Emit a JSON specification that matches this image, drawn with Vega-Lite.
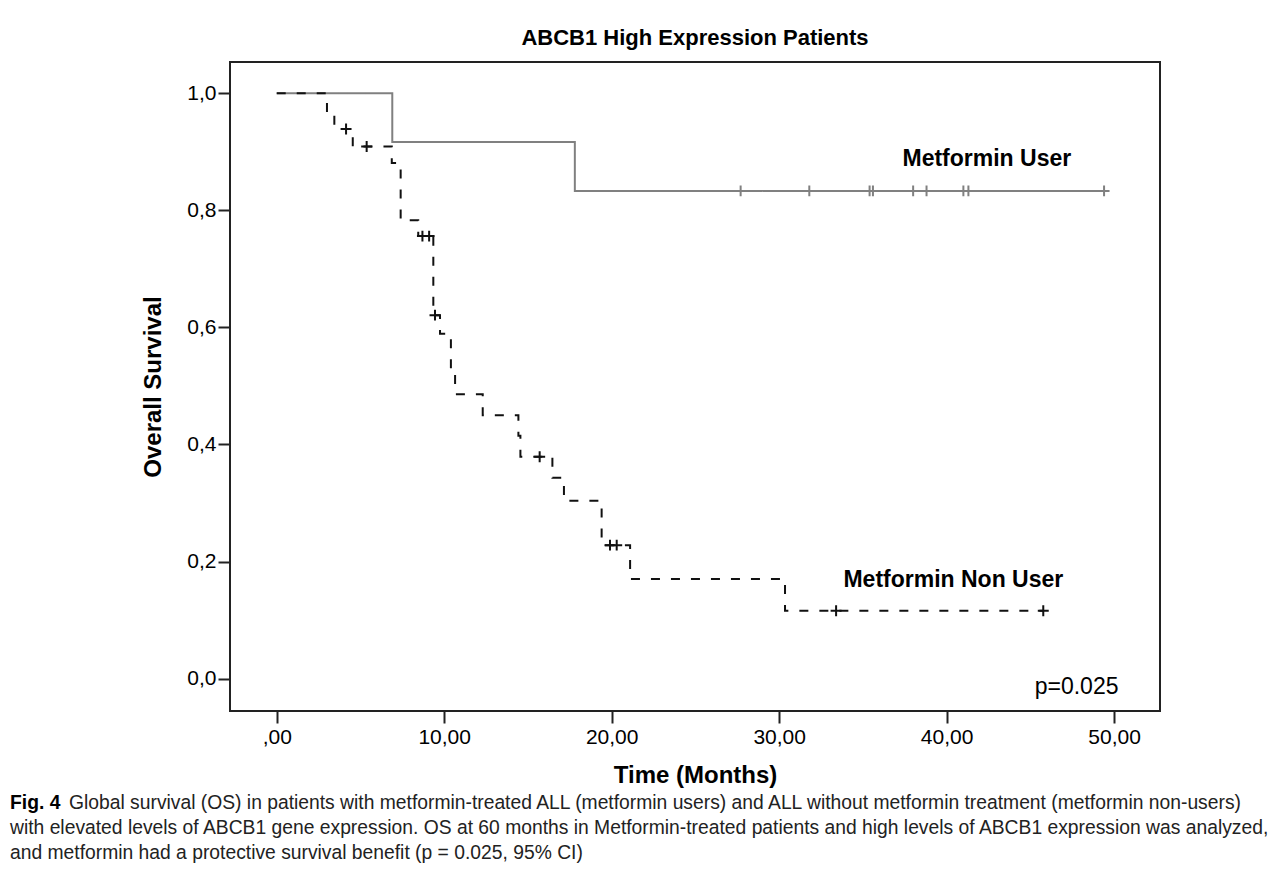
{
  "$schema": "https://vega.github.io/schema/vega-lite/v6.json",
  "background": "white",
  "padding": {"left": 10, "top": 26, "right": 5, "bottom": 5},
  "config": {"font": "Liberation Sans", "view": {"stroke": null}},
  "spacing": 2,
  "datasets": {
    "km": [
      {"group": "User", "time": 0, "surv": 1.0, "censored": false},
      {"group": "User", "time": 6.9, "surv": 0.9167, "censored": false},
      {"group": "User", "time": 17.8, "surv": 0.8333, "censored": false},
      {"group": "User", "time": 27.7, "surv": 0.8333, "censored": true},
      {"group": "User", "time": 31.8, "surv": 0.8333, "censored": true},
      {"group": "User", "time": 35.4, "surv": 0.8333, "censored": true},
      {"group": "User", "time": 35.6, "surv": 0.8333, "censored": true},
      {"group": "User", "time": 38.0, "surv": 0.8333, "censored": true},
      {"group": "User", "time": 38.8, "surv": 0.8333, "censored": true},
      {"group": "User", "time": 41.0, "surv": 0.8333, "censored": true},
      {"group": "User", "time": 41.3, "surv": 0.8333, "censored": true},
      {"group": "User", "time": 49.4, "surv": 0.8333, "censored": true},
      {"group": "Non User", "time": 0, "surv": 1.0, "censored": false},
      {"group": "Non User", "time": 3.0, "surv": 0.966, "censored": false},
      {"group": "Non User", "time": 3.44, "surv": 0.939, "censored": false},
      {"group": "Non User", "time": 4.14, "surv": 0.939, "censored": true},
      {"group": "Non User", "time": 4.54, "surv": 0.909, "censored": false},
      {"group": "Non User", "time": 5.37, "surv": 0.909, "censored": true},
      {"group": "Non User", "time": 6.87, "surv": 0.881, "censored": false},
      {"group": "Non User", "time": 7.4, "surv": 0.783, "censored": false},
      {"group": "Non User", "time": 8.45, "surv": 0.756, "censored": false},
      {"group": "Non User", "time": 8.7, "surv": 0.756, "censored": true},
      {"group": "Non User", "time": 9.1, "surv": 0.756, "censored": true},
      {"group": "Non User", "time": 9.35, "surv": 0.621, "censored": false},
      {"group": "Non User", "time": 9.45, "surv": 0.621, "censored": true},
      {"group": "Non User", "time": 9.75, "surv": 0.589, "censored": false},
      {"group": "Non User", "time": 10.4, "surv": 0.53, "censored": false},
      {"group": "Non User", "time": 10.65, "surv": 0.486, "censored": false},
      {"group": "Non User", "time": 12.3, "surv": 0.45, "censored": false},
      {"group": "Non User", "time": 14.43, "surv": 0.415, "censored": false},
      {"group": "Non User", "time": 14.55, "surv": 0.379, "censored": false},
      {"group": "Non User", "time": 15.7, "surv": 0.379, "censored": true},
      {"group": "Non User", "time": 16.46, "surv": 0.343, "censored": false},
      {"group": "Non User", "time": 17.15, "surv": 0.304, "censored": false},
      {"group": "Non User", "time": 19.4, "surv": 0.228, "censored": false},
      {"group": "Non User", "time": 19.9, "surv": 0.228, "censored": true},
      {"group": "Non User", "time": 20.3, "surv": 0.228, "censored": true},
      {"group": "Non User", "time": 21.1, "surv": 0.17, "censored": false},
      {"group": "Non User", "time": 30.35, "surv": 0.116, "censored": false},
      {"group": "Non User", "time": 33.4, "surv": 0.116, "censored": true},
      {"group": "Non User", "time": 45.77, "surv": 0.116, "censored": true}
    ],
    "labels": [
      {"kind": "series", "label": "Metformin User", "time": 42.4, "surv": 0.887},
      {"kind": "series", "label": "Metformin Non User", "time": 40.4, "surv": 0.168},
      {"kind": "stat", "label": "p=0.025", "time": 47.76, "surv": -0.0144}
    ],
    "caption": [
      {"line": 1, "part": "label", "text": "Fig. 4"},
      {"line": 1, "part": "lead", "text": "Global survival (OS) in patients with metformin-treated ALL (metformin users) and ALL without metformin treatment (metformin non-users)"},
      {"line": 2, "part": "body", "text": "with elevated levels of ABCB1 gene expression. OS at 60 months in Metformin-treated patients and high levels of ABCB1 expression was analyzed,"},
      {"line": 3, "part": "body", "text": "and metformin had a protective survival benefit (p = 0.025, 95% CI)"}
    ]
  },
  "vconcat": [
    {
      "width": 930,
      "height": 649,
      "view": {"stroke": "#222222", "strokeWidth": 2},
      "title": {"text": "ABCB1 High Expression Patients", "fontSize": 22, "fontWeight": "bold", "color": "black", "offset": 12, "anchor": "middle"},
      "encoding": {
        "x": {
          "field": "time", "type": "quantitative",
          "scale": {"domain": [-2.79, 52.74], "nice": false, "zero": false},
          "axis": {
            "values": [0, 10, 20, 30, 40, 50],
            "labelExpr": "datum.value == 0 ? ',00' : replace(format(datum.value, '.2f'), '.', ',')",
            "title": "Time (Months)", "titleFontSize": 24, "titleFontWeight": "bold", "titleColor": "black",
            "labelFontSize": 21, "labelColor": "black", "labelPadding": 3, "titlePadding": 16,
            "tickSize": 12, "tickWidth": 2, "tickColor": "#222222", "domain": false, "grid": false
          }
        },
        "y": {
          "field": "surv", "type": "quantitative",
          "scale": {"domain": [-0.0554, 1.0535], "nice": false, "zero": false},
          "axis": {
            "values": [0, 0.2, 0.4, 0.6, 0.8, 1.0],
            "labelExpr": "replace(format(datum.value, '.1f'), '.', ',')",
            "title": "Overall Survival", "titleFontSize": 24, "titleFontWeight": "bold", "titleColor": "black",
            "labelFontSize": 21, "labelColor": "black", "labelPadding": 2, "titlePadding": 21,
            "tickSize": 12, "tickWidth": 2, "tickColor": "#222222", "domain": false, "grid": false
          }
        }
      },
      "layer": [
        {
          "data": {"name": "km"},
          "mark": {"type": "line", "interpolate": "step-after", "strokeWidth": 2},
          "encoding": {
            "color": {"field": "group", "type": "nominal", "scale": {"domain": ["User", "Non User"], "range": ["#808080", "#111111"]}, "legend": null},
            "strokeDash": {"field": "group", "type": "nominal", "scale": {"domain": ["User", "Non User"], "range": [[1, 0], [9, 11]]}, "legend": null}
          }
        },
        {
          "data": {"name": "km"},
          "transform": [{"filter": "datum.censored"}],
          "mark": {"type": "point", "shape": "M-1,0L1,0M0,-1L0,1", "filled": false, "strokeWidth": 2, "size": 120, "opacity": 1},
          "encoding": {
            "color": {"field": "group", "type": "nominal", "scale": {"domain": ["User", "Non User"], "range": ["#666666", "#111111"]}, "legend": null}
          }
        },
        {
          "data": {"name": "labels"},
          "transform": [{"filter": "datum.kind == 'series'"}],
          "mark": {"type": "text", "fontSize": 23, "fontWeight": "bold", "color": "black", "align": "center", "baseline": "middle"},
          "encoding": {"text": {"field": "label"}}
        },
        {
          "data": {"name": "labels"},
          "transform": [{"filter": "datum.kind == 'stat'"}],
          "mark": {"type": "text", "fontSize": 23, "color": "black", "align": "center", "baseline": "middle"},
          "encoding": {"text": {"field": "label"}}
        }
      ]
    },
    {
      "width": 100,
      "height": 75,
      "data": {"name": "caption"},
      "encoding": {
        "y": {"field": "line", "type": "ordinal", "axis": null},
        "x": {"datum": 0, "type": "quantitative", "scale": {"domain": [0, 1]}, "axis": null},
        "text": {"field": "text"}
      },
      "layer": [
        {
          "transform": [{"filter": "datum.part == 'label'"}],
          "mark": {"type": "text", "align": "left", "baseline": "middle", "fontSize": 19.3, "fontWeight": "bold", "color": "black", "dx": -220}
        },
        {
          "transform": [{"filter": "datum.part == 'lead'"}],
          "mark": {"type": "text", "align": "left", "baseline": "middle", "fontSize": 19.3, "color": "#222222", "dx": -161}
        },
        {
          "transform": [{"filter": "datum.part == 'body'"}],
          "mark": {"type": "text", "align": "left", "baseline": "middle", "fontSize": 19.3, "color": "#222222", "dx": -220}
        }
      ]
    }
  ]
}
